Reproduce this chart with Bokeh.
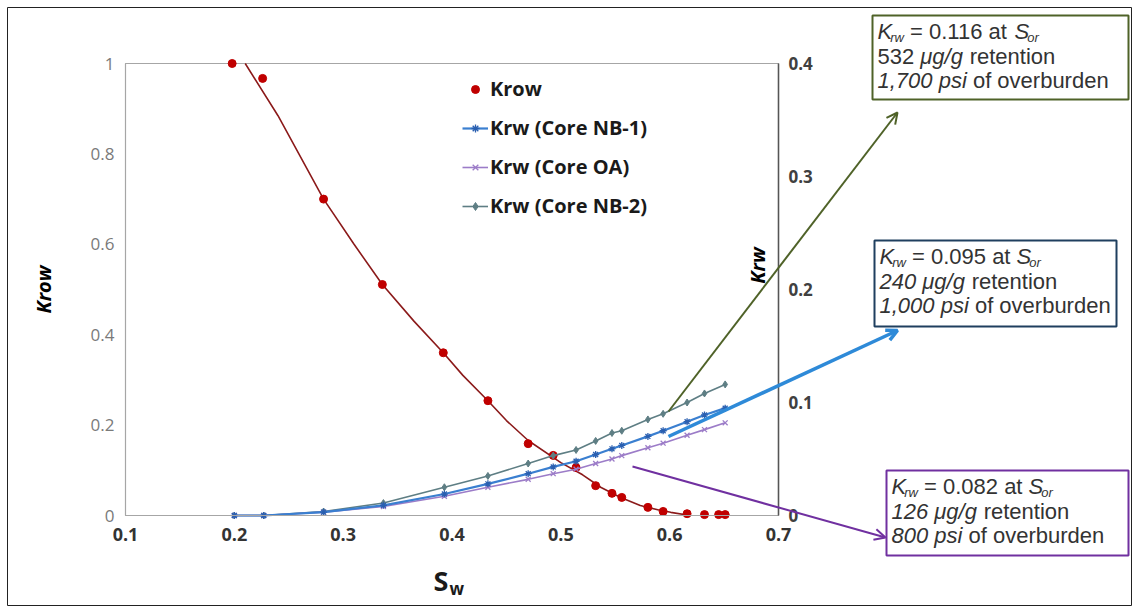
import math
from bokeh.plotting import figure
from bokeh.models import (Range1d, LinearAxis, Label, Legend, LegendItem, Arrow,
                          OpenHead, BoxAnnotation, FixedTicker, NumeralTickFormatter)
from bokeh.embed import file_html
from bokeh.resources import INLINE

# ---------------- data ----------------
sw_krow = [0.198, 0.226, 0.282, 0.336, 0.392, 0.433, 0.470, 0.493, 0.514, 0.532,
           0.547, 0.556, 0.580, 0.594, 0.616, 0.632, 0.645, 0.651]
krow = [1.0, 0.967, 0.70, 0.511, 0.36, 0.254, 0.159, 0.133, 0.106, 0.066,
        0.049, 0.040, 0.018, 0.009, 0.004, 0.002, 0.002, 0.002]

sw_fit = [0.210, 0.240, 0.282, 0.310, 0.336, 0.365, 0.392, 0.410, 0.433, 0.450,
          0.470, 0.500, 0.520, 0.537, 0.555, 0.573, 0.590, 0.601, 0.619]
krow_fit = [1.0, 0.885, 0.70, 0.60, 0.511, 0.43, 0.36, 0.31, 0.254, 0.21,
            0.166, 0.117, 0.09, 0.062, 0.04, 0.022, 0.012, 0.007, 0.0]

sw_krw = [0.200, 0.227, 0.282, 0.337, 0.393, 0.433, 0.470, 0.493, 0.514, 0.532,
          0.547, 0.556, 0.580, 0.594, 0.616, 0.632, 0.651]
krw_nb1 = [0.0, 0.0, 0.003, 0.009, 0.019, 0.028, 0.037, 0.043, 0.048, 0.054,
           0.059, 0.062, 0.070, 0.075, 0.083, 0.089, 0.095]
krw_oa = [0.0, 0.0, 0.003, 0.008, 0.017, 0.025, 0.032, 0.037, 0.041, 0.046,
          0.050, 0.053, 0.060, 0.064, 0.071, 0.076, 0.082]
krw_nb2 = [0.0, 0.0, 0.0035, 0.011, 0.025, 0.035, 0.046, 0.053, 0.058, 0.066,
           0.073, 0.075, 0.085, 0.090, 0.100, 0.108, 0.116]

x_ticks = [0.1, 0.2, 0.3, 0.4, 0.5, 0.6, 0.7]
krow_ticks = [0, 0.2, 0.4, 0.6, 0.8, 1.0]
krw_ticks = [0, 0.1, 0.2, 0.3, 0.4]

legend_labels = ["Krow", "Krw (Core NB-1)", "Krw (Core OA)", "Krw (Core NB-2)"]

# ---------------- layout ----------------
W, H = 1137, 609
FL, FR, FT, FB = 125, 778, 63, 515   # pixel box of the plot area (0.1..0.7, 0..1)


def X(px):
    return 0.1 + (px - FL) * 0.6 / (FR - FL)


def Y(py):
    return (FB - py) / (FB - FT)


p = figure(width=W, height=H,
           x_range=Range1d(X(0), X(W)), y_range=Range1d(Y(H), Y(0)),
           x_axis_location=None, y_axis_location=None,
           output_backend="svg", toolbar_location=None,
           min_border_left=0, min_border_right=0, min_border_top=0, min_border_bottom=0)
p.extra_y_ranges = {"krw": Range1d(0.4 * Y(H), 0.4 * Y(0))}
p.grid.visible = False
p.outline_line_color = None
p.background_fill_color = "white"
p.border_fill_color = "white"

# outer border of the chart
p.add_layout(BoxAnnotation(left=X(7), right=X(1131), top=Y(7), bottom=Y(605),
                           fill_color=None, fill_alpha=0, line_color="#222222",
                           line_alpha=1, line_width=1, level="underlay"))
# plot-area frame lines
p.add_layout(BoxAnnotation(left=0.1, right=0.7, top=1.0, bottom=0.0,
                           fill_color=None, fill_alpha=0, line_color="#a6a6a6",
                           line_alpha=1, line_width=1.2, level="underlay"))

# axes (fixed inside the canvas)
xa = LinearAxis(fixed_location=0.0, bounds=(0.1, 0.7),
                ticker=FixedTicker(ticks=x_ticks),
                formatter=NumeralTickFormatter(format="0.[0]"))
xa.axis_line_color = "#a6a6a6"
xa.major_tick_line_color = None
xa.minor_tick_line_color = None
xa.major_tick_out = 0
xa.major_label_standoff = 12
xa.major_label_text_font = "Open Sans"
xa.major_label_text_font_style = "bold"
xa.major_label_text_font_size = "18px"
xa.major_label_text_color = "#333333"
p.add_layout(xa, "below")

ya = LinearAxis(fixed_location=0.1, bounds=(0, 1),
                ticker=FixedTicker(ticks=krow_ticks),
                formatter=NumeralTickFormatter(format="0.[0]"))
ya.axis_line_color = "#a6a6a6"
ya.major_tick_line_color = None
ya.minor_tick_line_color = None
ya.major_tick_out = 0
ya.major_label_standoff = 11
ya.major_label_text_font = "Open Sans"
ya.major_label_text_font_size = "17px"
ya.major_label_text_color = "#7a7a7a"
ya.axis_label = "Krow"
ya.axis_label_text_font = "Open Sans"
ya.axis_label_text_font_style = "bold italic"
ya.axis_label_text_font_size = "20px"
ya.axis_label_text_color = "#000000"
ya.axis_label_standoff = 31
p.add_layout(ya, "left")

ra = LinearAxis(y_range_name="krw", fixed_location=0.7, bounds=(0, 0.4),
                ticker=FixedTicker(ticks=krw_ticks),
                formatter=NumeralTickFormatter(format="0.[0]"))
ra.axis_line_color = "#555555"
ra.axis_line_width = 1.5
ra.major_tick_line_color = None
ra.minor_tick_line_color = None
ra.major_tick_out = 0
ra.major_label_standoff = 10
ra.major_label_text_font = "Open Sans"
ra.major_label_text_font_style = "bold"
ra.major_label_text_font_size = "17px"
ra.major_label_text_color = "#404040"
p.add_layout(ra, "right")

# ---------------- series ----------------
fit = p.line(sw_fit, krow_fit, line_color="#8b1a1a", line_width=1.6)
r_krow = p.scatter(sw_krow, krow, marker="circle", size=8, fill_color="#c00000",
                   line_color="#c00000")

l_nb2 = p.line(sw_krw, krw_nb2, y_range_name="krw", line_color="#5e7e84", line_width=1.6)
s_nb2 = p.scatter(sw_krw, krw_nb2, y_range_name="krw", marker="diamond", size=7,
                  fill_color="#5e7e84", line_color="#5e7e84")
l_oa = p.line(sw_krw, krw_oa, y_range_name="krw", line_color="#9c7cc8", line_width=1.6)
s_oa = p.scatter(sw_krw, krw_oa, y_range_name="krw", marker="x", size=7,
                 line_color="#9c7cc8", line_width=1.3)
l_nb1 = p.line(sw_krw, krw_nb1, y_range_name="krw", line_color="#3a7fd0", line_width=2.2)
s_nb1 = p.scatter(sw_krw, krw_nb1, y_range_name="krw", marker="asterisk", size=7,
                  line_color="#2a5fb0", line_width=1.3)

legend = Legend(items=[
    LegendItem(label=legend_labels[0], renderers=[r_krow]),
    LegendItem(label=legend_labels[1], renderers=[l_nb1, s_nb1]),
    LegendItem(label=legend_labels[2], renderers=[l_oa, s_oa]),
    LegendItem(label=legend_labels[3], renderers=[l_nb2, s_nb2]),
], location=(462, 390))
legend.border_line_color = None
legend.background_fill_alpha = 0
legend.padding = 0
legend.margin = 0
legend.spacing = 12
legend.glyph_width = 26
legend.glyph_height = 20
legend.label_height = 20
legend.label_standoff = 2
legend.label_text_font = "Open Sans"
legend.label_text_font_style = "bold"
legend.label_text_font_size = "20px"
legend.label_text_color = "#1a1a1a"
p.add_layout(legend)

# ---------------- extra texts ----------------
p.add_layout(Label(x=X(757), y=Y(265), text="Krw", angle=math.pi / 2,
                   text_align="center", text_baseline="middle",
                   text_font="Open Sans", text_font_style="bold italic",
                   text_font_size="20px", text_color="#000000"))
p.add_layout(Label(x=X(433), y=Y(580), text="S", text_align="left",
                   text_baseline="middle", text_font="Open Sans",
                   text_font_style="bold", text_font_size="27px", text_color="#1a1a1a"))
p.add_layout(Label(x=X(449), y=Y(588), text="w", text_align="left",
                   text_baseline="middle", text_font="Open Sans",
                   text_font_style="bold", text_font_size="17px", text_color="#1a1a1a"))

# ---------------- annotation boxes ----------------
AW = {'0': 556, '1': 556, '2': 556, '3': 556, '4': 556, '5': 556, '6': 556, '7': 556,
      '8': 556, '9': 556, ',': 278, '.': 278, ' ': 278, '=': 584, 'K': 667, 'S': 667,
      'a': 556, 't': 278, 'r': 333, 'w': 722, 'o': 556, 'μ': 576, 'g': 556, '/': 278,
      'e': 556, 'n': 556, 'i': 222, 'p': 556, 's': 500, 'f': 278, 'v': 500, 'b': 556,
      'u': 556, 'd': 556}
FS, SUB = 22, 13
TXT = "#333333"


def tw(s, size):
    return sum(AW.get(c, 556) for c in s) * size / 1000.0


def runs(x0, cy, parts):
    x = x0
    for text, style, sub in parts:
        size = SUB if sub else FS
        yc = cy + (6 if sub else 0)
        lead = len(text) - len(text.lstrip(" "))
        x += tw(" " * lead, size)
        body = text.strip(" ")
        p.add_layout(Label(x=X(x), y=Y(yc), text=body, text_align="left",
                           text_baseline="middle", text_font="Liberation Sans",
                           text_font_style=style, text_font_size=f"{size}px",
                           text_color=TXT))
        x += tw(text.lstrip(" "), size) - (2 if body in ("K", "S") else 0)


boxes = [
    (872, 15, 1128, 99, "#4f6228", "0.116", "or", "532", False, "1,700"),
    (874, 240, 1116, 326, "#1f3f5f", "0.095", "or", "240", True, "1,000"),
    (886, 470, 1128, 555, "#7030a0", "0.082", "or", "126", True, "800"),
]
for (bl, bt, br, bb, col, kv, sub, ret, ret_it, psi) in boxes:
    p.add_layout(BoxAnnotation(left=X(bl), right=X(br), top=Y(bt), bottom=Y(bb),
                               fill_color="white", fill_alpha=1, line_color=col,
                               line_alpha=1, line_width=2))
    x0 = bl + 5
    runs(x0, bt + 16, [("K", "italic", False), ("rw", "italic", True),
                       (f" = {kv} at ", "normal", False), ("S", "italic", False),
                       (sub, "italic", True)])
    if ret_it:
        runs(x0, bt + 41, [(f"{ret} μg/g", "italic", False), (" retention", "normal", False)])
    else:
        runs(x0, bt + 41, [(f"{ret} ", "normal", False), ("μg/g", "italic", False),
                           (" retention", "normal", False)])
    runs(x0, bt + 65, [(f"{psi} psi", "italic", False), (" of overburden", "normal", False)])

# ---------------- arrows ----------------
arrows = [
    ((668, 411), (897, 112), "#4f6228", 2),
    ((668, 436), (897, 330), "#2e8ad8", 3.5),
    ((632, 466), (885, 537), "#7030a0", 2),
]
for (sx, sy), (ex, ey), col, lw in arrows:
    p.add_layout(Arrow(x_start=X(sx), y_start=Y(sy), x_end=X(ex), y_end=Y(ey),
                       line_color=col, line_width=lw,
                       end=OpenHead(size=11, line_color=col, line_width=lw)))

open("out.html", "w").write(file_html(p, INLINE))
